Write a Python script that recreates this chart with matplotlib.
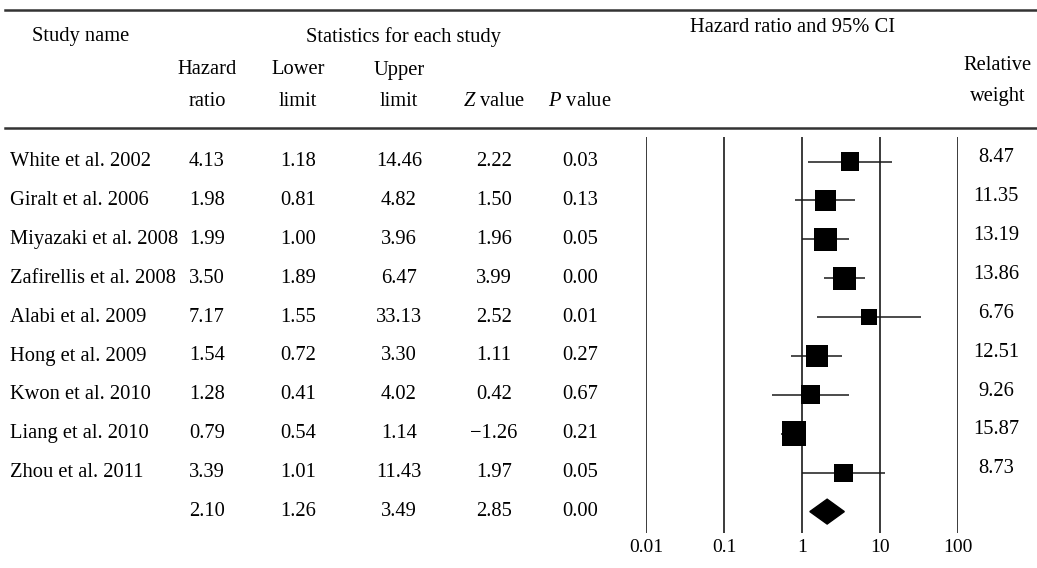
import matplotlib
matplotlib.use('Agg')
import matplotlib.pyplot as plt
import matplotlib.transforms as mtransforms
from matplotlib.patches import Polygon

plt.rcParams['font.family'] = ['Liberation Serif', 'DejaVu Serif']
plt.rcParams['mathtext.fontset'] = 'custom'
plt.rcParams['mathtext.rm'] = 'Liberation Serif'
plt.rcParams['mathtext.it'] = 'Liberation Serif:italic'

# data
studies = ['White et al. 2002', 'Giralt et al. 2006', 'Miyazaki et al. 2008',
           'Zafirellis et al. 2008', 'Alabi et al. 2009', 'Hong et al. 2009',
           'Kwon et al. 2010', 'Liang et al. 2010', 'Zhou et al. 2011']
hr = [4.13, 1.98, 1.99, 3.50, 7.17, 1.54, 1.28, 0.79, 3.39]
lower = [1.18, 0.81, 1.00, 1.89, 1.55, 0.72, 0.41, 0.54, 1.01]
upper = [14.46, 4.82, 3.96, 6.47, 33.13, 3.30, 4.02, 1.14, 11.43]
zval = [2.22, 1.50, 1.96, 3.99, 2.52, 1.11, 0.42, -1.26, 1.97]
pval = [0.03, 0.13, 0.05, 0.00, 0.01, 0.27, 0.67, 0.21, 0.05]
weight = [8.47, 11.35, 13.19, 13.86, 6.76, 12.51, 9.26, 15.87, 8.73]

# pooled estimate
pooled_hr, pooled_lo, pooled_hi = 2.10, 1.26, 3.49
pooled_z, pooled_p = 2.85, 0.00

scale_ticks = [0.01, 0.1, 1, 10, 100]
tick_labels = ['0.01', '0.1', '1', '10', '100']

W, H = 1037, 568
fig = plt.figure(figsize=(W / 100, H / 100), dpi=100)

# overlay axes in pixel units for the table part
tab = fig.add_axes([0, 0, 1, 1])
tab.set_xlim(0, W)
tab.set_ylim(H, 0)
tab.axis('off')

# forest plot axes
top_px, bot_px = 137, 533
left_px, right_px = 646, 958
ax = fig.add_axes([left_px / W, (H - bot_px) / H,
                   (right_px - left_px) / W, (bot_px - top_px) / H])
ax.set_xscale('log')
ax.set_xlim(0.01, 100)
row0, step = 161.5, 38.9
ax.set_ylim((bot_px - row0) / step, (top_px - row0) / step)
for s in ax.spines.values():
    s.set_visible(False)
ax.set_yticks([])
ax.set_xticks(scale_ticks, tick_labels)
ax.minorticks_off()
ax.tick_params(axis='x', length=0, pad=4, labelsize=14)

for t in scale_ticks:
    ax.axvline(t, color='#1a1a1a', lw=1.2)

rows = list(range(len(studies)))
ax.hlines(rows, lower, upper, color='#1a1a1a', lw=1.1)
sizes = [(6.2 * w ** 0.5 * 0.72) ** 2 for w in weight]
ax.scatter(hr, rows, s=sizes, marker='s', color='black', zorder=3, linewidths=0)

ys = len(studies)
dh = 0.32
ax.add_patch(Polygon([(pooled_lo, ys), (pooled_hr, ys - dh), (pooled_hi, ys), (pooled_hr, ys + dh)],
                     closed=True, color='black', zorder=3))

# header rules
tab.plot([5, W], [10, 10], color='#333333', lw=1.8)
tab.plot([5, W], [128, 128], color='#333333', lw=1.8)

fs = 14.8
tab.text(32, 37, 'Study name', fontsize=fs, va='center', ha='left')
tab.text(403, 37, 'Statistics for each study', fontsize=fs, va='center', ha='center')
tab.text(793, 28, 'Hazard ratio and 95% CI', fontsize=fs, va='center', ha='center')
tab.text(998, 66, 'Relative', fontsize=fs, va='center', ha='center')
tab.text(998, 97, 'weight', fontsize=fs, va='center', ha='center')

col_x = [207, 298, 399, 494, 580]
tab.text(col_x[0], 70, 'Hazard', fontsize=fs, va='center', ha='center')
tab.text(col_x[0], 101, 'ratio', fontsize=fs, va='center', ha='center')
tab.text(col_x[1], 70, 'Lower', fontsize=fs, va='center', ha='center')
tab.text(col_x[1], 101, 'limit', fontsize=fs, va='center', ha='center')
tab.text(col_x[2], 70, 'Upper', fontsize=fs, va='center', ha='center')
tab.text(col_x[2], 101, 'limit', fontsize=fs, va='center', ha='center')
tab.text(col_x[3], 101, r'$Z$ value', fontsize=fs, va='center', ha='center')
tab.text(col_x[4], 101, r'$P$ value', fontsize=fs, va='center', ha='center')

# table rows share the forest axes' y scale
trans = mtransforms.blended_transform_factory(tab.transData, ax.transData)


def fmt(v):
    return f'{v:.2f}'.replace('-', '\u2212')


for i, name in enumerate(studies):
    tab.text(10, i, name, fontsize=fs, va='center', ha='left', transform=trans)
    for x, v in zip(col_x, [hr[i], lower[i], upper[i], zval[i], pval[i]]):
        tab.text(x, i, fmt(v), fontsize=fs, va='center', ha='center', transform=trans)
    tab.text(996, i - 0.1, fmt(weight[i]), fontsize=fs, va='center', ha='center', transform=trans)

for x, v in zip(col_x, [pooled_hr, pooled_lo, pooled_hi, pooled_z, pooled_p]):
    tab.text(x, ys, fmt(v), fontsize=fs, va='center', ha='center', transform=trans)

fig.savefig('out.png', dpi=100)
